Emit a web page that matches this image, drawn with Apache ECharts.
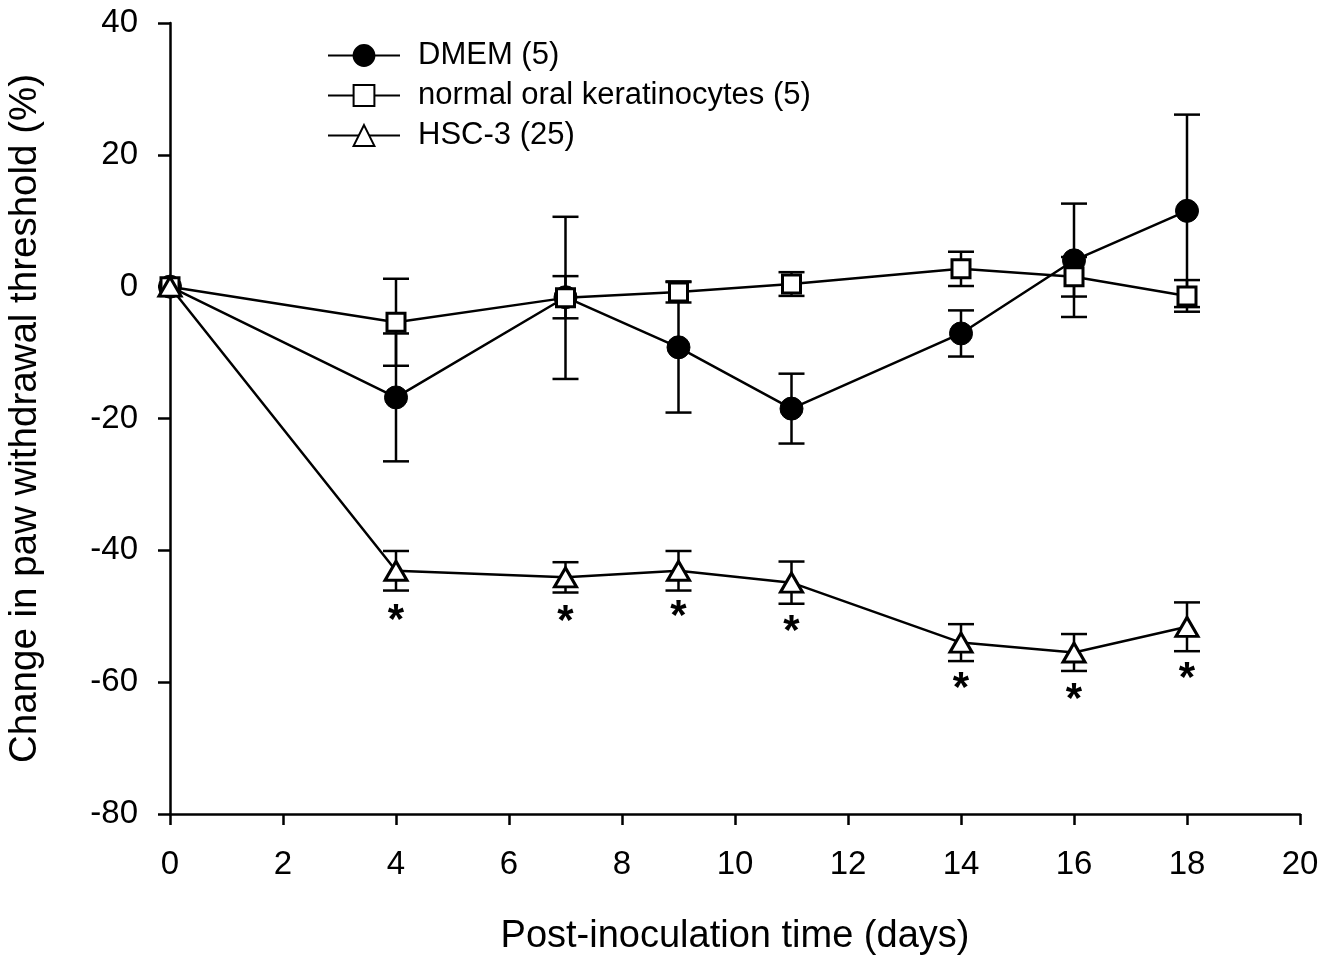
<!DOCTYPE html>
<html>
<head>
<meta charset="utf-8">
<script src="https://cdn.jsdelivr.net/npm/echarts@6/dist/echarts.min.js"></script>
<style>html,body{margin:0;padding:0;background:#fff;}#c{width:1340px;height:958px;}</style>
</head>
<body>
<div id="c"></div>
<script>
const days = [0, 4, 7, 9, 11, 14, 16, 18];
const seriesNames = ['DMEM (5)', 'normal oral keratinocytes (5)', 'HSC-3 (25)'];
const dmemMean = [0, -16.8, -1.6, -9.2, -18.5, -7.1, 4.0, 11.5];
const dmemSem  = [0, 9.7, 3.2, 9.9, 5.3, 3.5, 8.6, 14.6];
const nokMean  = [0, -5.4, -1.7, -0.8, 0.4, 2.7, 1.5, -1.4];
const nokSem   = [0, 6.6, 12.3, 1.6, 1.8, 2.6, 3.0, 2.4];
const hscMean  = [0, -43.1, -44.1, -43.1, -44.9, -54.0, -55.5, -51.6];
const hscSem   = [0, 3.0, 2.3, 3.0, 3.2, 2.8, 2.8, 3.7];
const starDays = [4, 7, 9, 11, 14, 16, 18];
const starY    = [-49.8, -50.0, -49.3, -51.6, -60.2, -61.9, -58.6];
const xTicks = {min: 0, max: 20, interval: 2};
const yTicks = {min: -80, max: 40, interval: 20};

const FONT = '"Liberation Sans", Arial, sans-serif';
const chart = echarts.init(document.getElementById('c'));

function pts(means) { return days.map((d, i) => [d, means[i]]); }
function errData(means, sems) { return days.map((d, i) => [d, means[i], sems[i]]); }

function errSeries(means, sems) {
  return {
    type: 'custom',
    z: 1,
    silent: true,
    data: errData(means, sems),
    renderItem: function (params, api) {
      const x = api.value(0), m = api.value(1), s = api.value(2);
      if (!s) return null;
      const top = api.coord([x, m + s]);
      const bot = api.coord([x, m - s]);
      const hw = 13;
      const st = {stroke: '#000', lineWidth: 2.5};
      return {
        type: 'group',
        children: [
          {type: 'line', shape: {x1: top[0], y1: top[1], x2: bot[0], y2: bot[1]}, style: st},
          {type: 'line', shape: {x1: top[0] - hw, y1: top[1], x2: top[0] + hw, y2: top[1]}, style: st},
          {type: 'line', shape: {x1: bot[0] - hw, y1: bot[1], x2: bot[0] + hw, y2: bot[1]}, style: st}
        ]
      };
    }
  };
}

const option = {
  animation: false,
  backgroundColor: '#fff',
  grid: {left: 170, right: 40, top: 23, bottom: 144, containLabel: false, outerBoundsMode: 'none'},
  legend: {
    orient: 'vertical',
    left: 327,
    top: 40,
    padding: 0,
    itemWidth: 72,
    itemHeight: 26,
    itemGap: 9,
    data: seriesNames,
    textStyle: {fontFamily: FONT, fontSize: 31, lineHeight: 31, color: '#000', padding: [0, 0, 0, 13]}
  },
  xAxis: {
    type: 'value',
    min: xTicks.min, max: xTicks.max, interval: xTicks.interval,
    name: 'Post-inoculation time (days)',
    nameLocation: 'middle',
    nameGap: 104,
    nameTextStyle: {fontFamily: FONT, fontSize: 38, color: '#000'},
    axisLine: {show: true, onZero: false, lineStyle: {color: '#000', width: 2.5}},
    axisTick: {show: true, length: 11, lineStyle: {color: '#000', width: 2.5}},
    axisLabel: {fontFamily: FONT, fontSize: 33, color: '#000', margin: 34},
    splitLine: {show: false}
  },
  yAxis: {
    type: 'value',
    min: yTicks.min, max: yTicks.max, interval: yTicks.interval,
    name: 'Change in paw withdrawal threshold (%)',
    nameLocation: 'middle',
    nameGap: 125,
    nameRotate: 90,
    nameTextStyle: {fontFamily: FONT, fontSize: 38.5, color: '#000'},
    axisLine: {show: true, onZero: false, lineStyle: {color: '#000', width: 2.5}},
    axisTick: {show: true, length: 12, lineStyle: {color: '#000', width: 2.5}},
    axisLabel: {fontFamily: FONT, fontSize: 33, color: '#000', margin: 32},
    splitLine: {show: false}
  },
  series: [
    errSeries(dmemMean, dmemSem),
    errSeries(nokMean, nokSem),
    errSeries(hscMean, hscSem),
    {
      name: seriesNames[0], type: 'line', data: pts(dmemMean), z: 3,
      symbol: 'circle', symbolSize: 23,
      lineStyle: {color: '#000', width: 2.5},
      itemStyle: {color: '#000', borderColor: '#000', borderWidth: 1}
    },
    {
      name: seriesNames[1], type: 'line', data: pts(nokMean), z: 4,
      symbol: 'rect', symbolSize: 18,
      lineStyle: {color: '#000', width: 2.5},
      itemStyle: {color: '#fff', borderColor: '#000', borderWidth: 3}
    },
    {
      name: seriesNames[2], type: 'line', data: pts(hscMean), z: 5,
      symbol: 'triangle', symbolSize: [22, 19],
      lineStyle: {color: '#000', width: 2.5},
      itemStyle: {color: '#fff', borderColor: '#000', borderWidth: 3}
    },
    {
      type: 'custom', z: 6, silent: true,
      data: starDays.map((d, i) => [d, starY[i]]),
      renderItem: function (params, api) {
        const p = api.coord([api.value(0), api.value(1)]);
        return {
          type: 'text',
          style: {text: '*', x: p[0], y: p[1] + 6, align: 'center', verticalAlign: 'middle',
                  font: 'bold 42px ' + FONT, fill: '#000'}
        };
      }
    }
  ]
};
chart.setOption(option);
</script>
</body>
</html>
